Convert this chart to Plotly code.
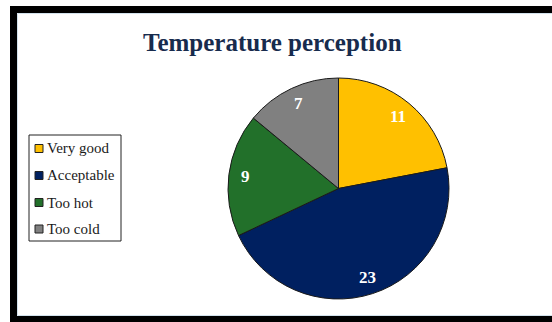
import math
import plotly.graph_objects as go

# Survey answers on perceived temperature
categories = ["Very good", "Acceptable", "Too hot", "Too cold"]
counts = [11, 23, 9, 7]
colors = ["#FFC000", "#002060", "#22702A", "#808080"]

W, H = 552, 322
SERIF = "Liberation Serif"

# Pie placement in pixels
cx, cy, r = 338.5, 188.5, 110.5


def px(x):
    return x / W


def py(y):
    return 1 - y / H


fig = go.Figure()
fig.add_trace(go.Pie(
    labels=categories,
    values=counts,
    sort=False,
    direction="clockwise",
    rotation=0,
    marker=dict(colors=colors, line=dict(color="#1a1a1a", width=1)),
    textinfo="none",
    hoverinfo="label+value",
    showlegend=False,
    domain=dict(x=[px(cx - r), px(cx + r)], y=[py(cy + r), py(cy - r)]),
))

annotations = []
shapes = []

# Value labels, placed along each slice's mid angle
total = sum(counts)
start = 0.0
for v in counts:
    mid = (start + v / 2) / total * 2 * math.pi
    start += v
    lx = cx + 0.85 * r * math.sin(mid)
    ly = cy - 0.85 * r * math.cos(mid)
    annotations.append(dict(
        x=px(lx), y=py(ly), xref="paper", yref="paper",
        text=f"<b>{v}</b>", showarrow=False,
        font=dict(family=SERIF, size=17, color="white"),
        xanchor="center", yanchor="middle",
    ))

# Title
annotations.append(dict(
    x=px(272), y=py(42), xref="paper", yref="paper",
    text="<b>Temperature perception</b>", showarrow=False,
    font=dict(family=SERIF, size=25, color="#172B4D"),
    xanchor="center", yanchor="middle",
))

# Legend box with one row per category
lx0, ly0, lx1, ly1 = 29, 135, 121, 241
shapes.append(dict(type="rect", xref="paper", yref="paper",
                   x0=px(lx0), x1=px(lx1), y0=py(ly1), y1=py(ly0),
                   line=dict(color="#222222", width=1), fillcolor="white"))
row_y = [148.5, 175.5, 202.5, 229]
for name, col, yy in zip(categories, colors, row_y):
    shapes.append(dict(type="rect", xref="paper", yref="paper",
                       x0=px(35), x1=px(43), y0=py(yy + 4), y1=py(yy - 4),
                       line=dict(color="#222222", width=1), fillcolor=col))
    annotations.append(dict(
        x=px(45), y=py(yy), xref="paper", yref="paper",
        text=name, showarrow=False,
        font=dict(family=SERIF, size=15, color="#1a1a1a"),
        xanchor="left", yanchor="middle",
    ))

# Thin pale edge just inside the frame
shapes.append(dict(type="path", xref="paper", yref="paper",
                   path=f"M {px(W)},{py(13.5)} L {px(17.5)},{py(13.5)} L {px(17.5)},{py(315.5)} L {px(W)},{py(315.5)}",
                   line=dict(color="#D3E2EC", width=1)))

# Black frame along the top, left and bottom edges
frame = [(10, 6, W, 13), (10, 6, 17, H), (10, 316, W, H)]
for x0, y0, x1, y1 in frame:
    shapes.append(dict(type="rect", xref="paper", yref="paper",
                       x0=px(x0), x1=px(x1), y0=py(y1), y1=py(y0),
                       line=dict(width=0), fillcolor="black", layer="above"))

# Keep the right edge open and white
shapes.append(dict(type="rect", xref="paper", yref="paper",
                   x0=px(540), x1=1.02, y0=py(315), y1=py(14),
                   line=dict(width=0), fillcolor="white", layer="above"))

fig.update_layout(
    width=W, height=H,
    margin=dict(l=0, r=0, t=0, b=0),
    paper_bgcolor="white",
    plot_bgcolor="white",
    showlegend=False,
    annotations=annotations,
    shapes=shapes,
)

fig.write_html("out.html")
